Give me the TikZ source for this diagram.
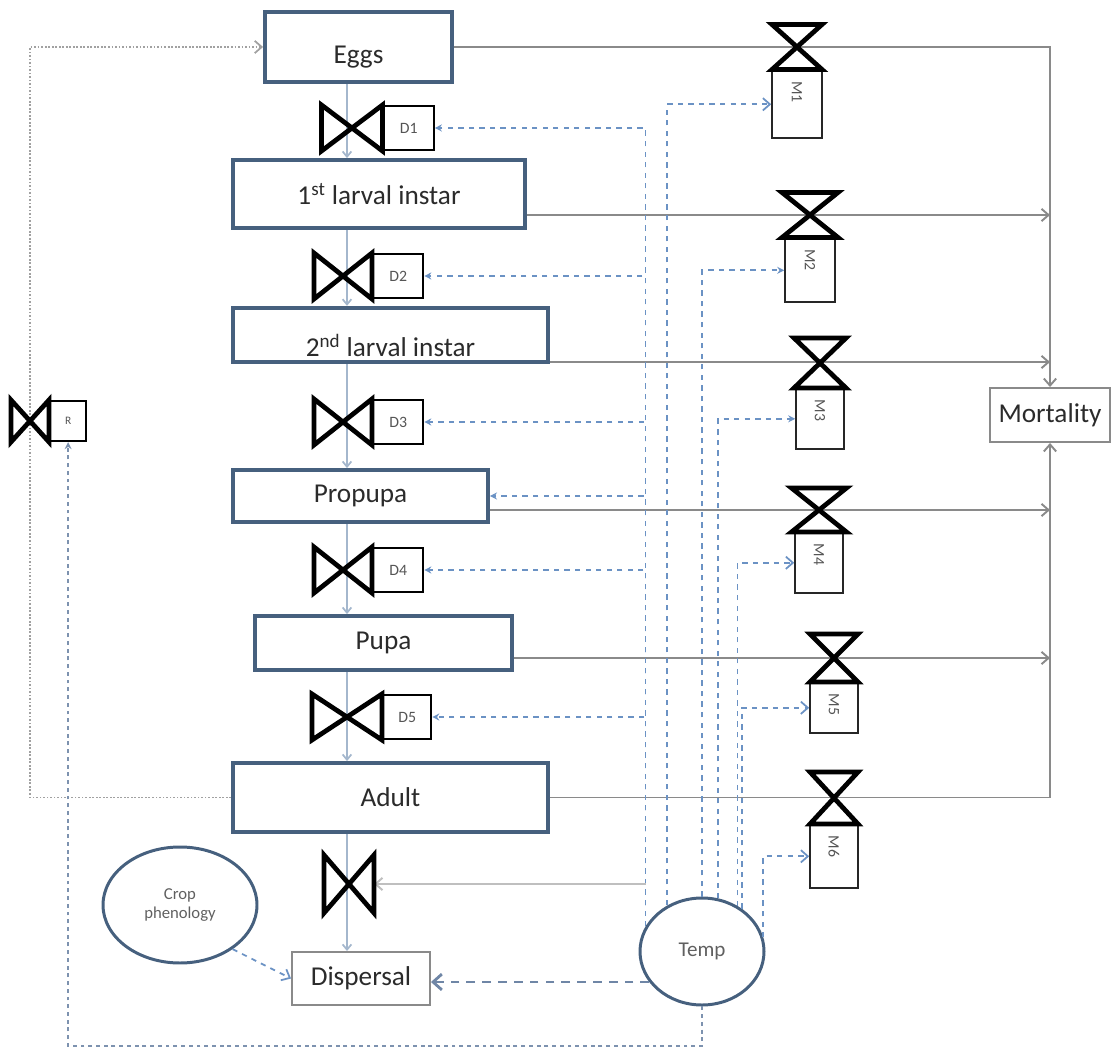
\documentclass[tikz,border=0pt]{standalone}
\usepackage{fontspec}
\setmainfont{Carlito}
\usepackage{graphicx}
\usepackage{tikz}
\usetikzlibrary{positioning}
\usetikzlibrary{arrows.meta,shapes.geometric}

\newlength\pxl
\setlength\pxl{0.02cm}

\definecolor{stageblue}{HTML}{46607E}
\definecolor{tempblue}{HTML}{6B92C4}
\definecolor{bluegray}{HTML}{6F86A6}
\definecolor{linegray}{HTML}{8A8A8A}
\definecolor{colblue}{HTML}{A4B7CD}
\definecolor{txtgray}{HTML}{2B2B2B}

\tikzset{
  stage/.style={draw=stageblue, line width=2.2pt, inner sep=0pt, text=txtgray,
    font=\fontsize{15.5}{18}\selectfont},
  gbox/.style={draw=linegray, line width=1.1pt, inner sep=0pt, text=txtgray,
    font=\fontsize{15.5}{18}\selectfont},
  dbox/.style={draw=black, line width=1.3pt, minimum width=50*\pxl, minimum height=44*\pxl,
    inner sep=0pt, text=txtgray!80, font=\fontsize{9}{10}\selectfont},
  mbox/.style={draw=black!85, line width=0.9pt, minimum width=48*\pxl, minimum height=#1*\pxl,
    inner sep=0pt, text depth=(#1-22)*\pxl, text=txtgray!80, font=\fontsize{9}{10}\selectfont},
  vnode/.style={inner sep=0pt, outer sep=0pt},
  valve/.style={line width=2.7pt},
  blob/.style={ellipse, draw=stageblue, line width=1.7pt, inner sep=0pt, text=txtgray!75, align=center},
  flow/.style={draw=linegray, line width=1.1pt, -{Straight Barb[length=4pt,width=7pt]}},
  col/.style={draw=colblue, line width=1pt, -{Straight Barb[length=3pt,width=5pt]}},
  loopline/.style={draw=linegray!80, line width=1pt, densely dotted, -{Straight Barb[length=4pt,width=7pt]}},
  tdash/.style={draw=tempblue, line width=1pt, dash pattern=on 3pt off 3pt},
  tlong/.style={draw=bluegray, line width=1.6pt, dash pattern=on 5pt off 4pt, -{Straight Barb[length=5pt,width=9pt]}},
  bdash/.style={draw=bluegray!90, line width=1.2pt, dash pattern=on 2.2pt off 2.2pt, -{Stealth[length=4pt,width=4pt]}},
  topen/.style={-{Straight Barb[length=4pt,width=7pt]}},
  tfill/.style={-{Stealth[length=4pt,width=4pt]}},
}

\begin{document}
\begin{tikzpicture}[x=0.02cm, y=-0.02cm]
  \useasboundingbox (0,0) rectangle (1112,1050);
  \coordinate (colx) at (347,0);

  % stages
  \node[stage, minimum width=187*\pxl, minimum height=70*\pxl, text height=22pt] (Eggs) at (358.5,47) {Eggs};
  \node[stage, minimum width=292*\pxl, minimum height=68*\pxl] (L1) at (379,194) {1\textsuperscript{st} larval instar};
  \node[stage, minimum width=315*\pxl, minimum height=54*\pxl, text height=28pt, text depth=3pt] (L2) at (390.5,335) {2\textsuperscript{nd} larval instar};
  \node[stage, minimum width=255*\pxl, minimum height=52*\pxl] (Pro) at (360.5,496) {Propupa};
  \node[stage, minimum width=257*\pxl, minimum height=54*\pxl] (Pupa) at (383.5,643) {Pupa};
  \node[stage, minimum width=315*\pxl, minimum height=69*\pxl] (Adult) at (390.5,797.5) {Adult};
  \node[gbox, minimum width=138*\pxl, minimum height=53*\pxl] (Disp) at (361,978.5) {Dispersal};
  \node[gbox, minimum width=120*\pxl, minimum height=54*\pxl] (Mort) at (1050,415) {Mortality};
  \node[blob, minimum width=154*\pxl, minimum height=116*\pxl, font=\fontsize{9.5}{11}\selectfont] (Crop) at (180,905) {Crop\\phenology};
  \node[blob, minimum width=124*\pxl, minimum height=107*\pxl, font=\fontsize{12}{14}\selectfont] (Temp) at (702,951.5) {Temp};

  % valves
  \node[vnode, minimum width=61*\pxl, minimum height=46*\pxl] (DV1) at (352,128) {};
  \node[vnode, minimum width=58*\pxl, minimum height=46*\pxl] (DV2) at (343,276) {};
  \node[vnode, minimum width=58*\pxl, minimum height=46*\pxl] (DV3) at (343,422) {};
  \node[vnode, minimum width=58*\pxl, minimum height=46*\pxl] (DV4) at (343,570) {};
  \node[vnode, minimum width=70*\pxl, minimum height=46*\pxl] (DV5) at (347,717) {};
  \node[vnode, minimum width=50*\pxl, minimum height=58*\pxl] (DVd) at (349,884) {};
  \node[vnode, minimum width=38*\pxl, minimum height=42*\pxl] (RV) at (30,421) {};
  \node[vnode, minimum width=50*\pxl, minimum height=45*\pxl] (MV1) at (797,47) {};
  \node[vnode, minimum width=56*\pxl, minimum height=45*\pxl] (MV2) at (810,215) {};
  \node[vnode, minimum width=52*\pxl, minimum height=50*\pxl] (MV3) at (820,363) {};
  \node[vnode, minimum width=55*\pxl, minimum height=44*\pxl] (MV4) at (819,510) {};
  \node[vnode, minimum width=48*\pxl, minimum height=48*\pxl] (MV5) at (834,658) {};
  \node[vnode, minimum width=48*\pxl, minimum height=52*\pxl] (MV6) at (834,798) {};

  \node[dbox] (DB1) [right=0pt of DV1] {D1};
  \node[dbox] (DB2) [right=0pt of DV2] {D2};
  \node[dbox] (DB3) [right=0pt of DV3] {D3};
  \node[dbox] (DB4) [right=0pt of DV4] {D4};
  \node[dbox, minimum width=48*\pxl] (DB5) [right=0pt of DV5] {D5};
  \node[dbox, minimum width=36*\pxl, minimum height=40*\pxl, font=\fontsize{6.5}{7}\selectfont] (RB) [right=0pt of RV] {R};
  \node[mbox=68, minimum width=50*\pxl] (MB1) [below=0pt of MV1] {\rotatebox{-90}{M1}};
  \node[mbox=64, minimum width=50*\pxl] (MB2) [below=0pt of MV2] {\rotatebox{-90}{M2}};
  \node[mbox=60] (MB3) [below=0pt of MV3] {\rotatebox{-90}{M3}};
  \node[mbox=60] (MB4) [below=0pt of MV4] {\rotatebox{-90}{M4}};
  \node[mbox=50] (MB5) [below=0pt of MV5] {\rotatebox{-90}{M5}};
  \node[mbox=63] (MB6) [below=0pt of MV6] {\rotatebox{-90}{M6}};

  % flows
  \foreach \a/\b in {Eggs/L1, L1/L2, L2/Pro, Pro/Pupa, Pupa/Adult, Adult/Disp}
    \draw[col] (\a.south -| colx) -- (\b.north -| colx);
  \draw[flow] (Eggs.east) -| (Mort.north);
  \draw[flow] (Adult.east) -| (Mort.south);
  \foreach \s/\y in {L1/215, L2/362, Pro/510, Pupa/658}
    \draw[flow] (\s.east |- 0,\y) -- (Mort.north |- 0,\y);
  \draw[loopline] (Adult.west) -- (Adult.west -| RV) -- (Eggs.west -| RV) -- (Eggs.west);

  % temperature links
  \foreach \t/\a/\s in {DB1/156/tfill, DB2/156/tfill, DB3/156/tfill, Pro/156/tfill, DB4/156/tfill, DB5/156/tfill,
      MB1/127/topen, MB2/90/tfill, MB3/73/tfill, MB4/52/topen, MB5/47/topen, MB6/13/topen}
    \draw[tdash,\s] (Temp.\a) |- (\t);
  \draw[flow, draw=linegray!55] (Temp.156 |- DVd) -- (DVd);
  \draw[tlong] (Temp.210) -- (Temp.210 -| Disp.east);
  \draw[tdash, topen] (Crop.320) -- (Disp.west);
  \draw[bdash] (Temp.south) -- (Temp.south |- 0,1046) -| (RB.south);

  \foreach \v in {DV1,DV2,DV3,DV4,DV5,DVd,RV}
    \draw[valve] (\v.north west) -- (\v.south east) -- (\v.north east) -- (\v.south west) -- cycle;
  \foreach \v in {MV1,MV2,MV3,MV4,MV5,MV6}
    \draw[valve] (\v.north west) -- (\v.north east) -- (\v.south west) -- (\v.south east) -- cycle;
\end{tikzpicture}
\end{document}
